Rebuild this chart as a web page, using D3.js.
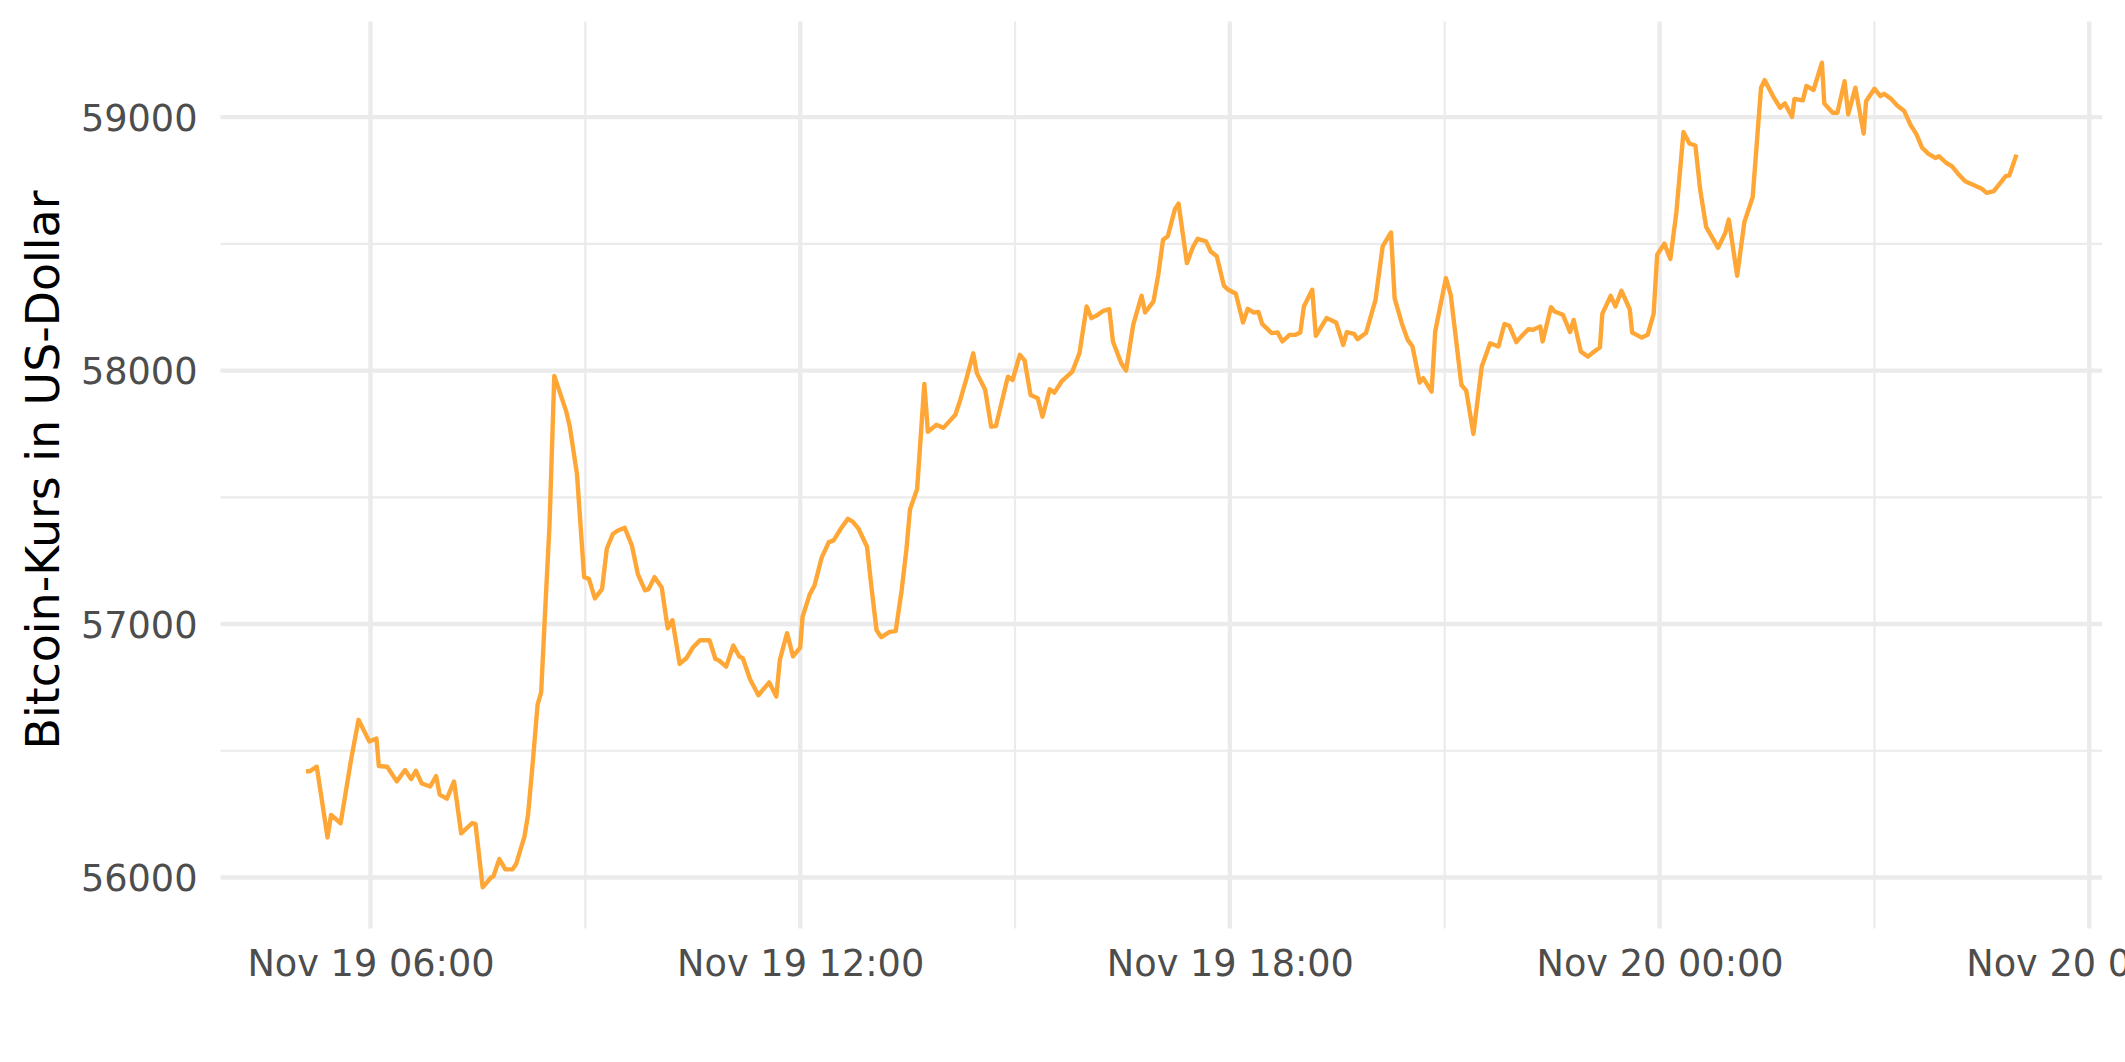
<!DOCTYPE html>
<html>
<head>
<meta charset="utf-8">
<script src="https://cdn.jsdelivr.net/npm/d3@7"></script>
<style>
  html, body { margin: 0; padding: 0; background: #ffffff; }
  svg { display: block; }
</style>
</head>
<body>
<svg id="chart" width="2125" height="1062"></svg>
<script>
// ---- Data ----
const times = [
  "2021-11-19 05:06","2021-11-19 05:09","2021-11-19 05:15","2021-11-19 05:24","2021-11-19 05:27","2021-11-19 05:35",
  "2021-11-19 05:44","2021-11-19 05:50","2021-11-19 05:59","2021-11-19 06:05","2021-11-19 06:07","2021-11-19 06:14",
  "2021-11-19 06:22","2021-11-19 06:29","2021-11-19 06:34","2021-11-19 06:38","2021-11-19 06:43","2021-11-19 06:50",
  "2021-11-19 06:55","2021-11-19 06:58","2021-11-19 07:04","2021-11-19 07:10","2021-11-19 07:16","2021-11-19 07:25",
  "2021-11-19 07:28","2021-11-19 07:34","2021-11-19 07:41","2021-11-19 07:43","2021-11-19 07:48","2021-11-19 07:53",
  "2021-11-19 07:59","2021-11-19 08:02","2021-11-19 08:09","2021-11-19 08:12","2021-11-19 08:16","2021-11-19 08:20",
  "2021-11-19 08:23","2021-11-19 08:26","2021-11-19 08:30","2021-11-19 08:34","2021-11-19 08:44","2021-11-19 08:47",
  "2021-11-19 08:53","2021-11-19 08:59","2021-11-19 09:03","2021-11-19 09:08","2021-11-19 09:14","2021-11-19 09:18",
  "2021-11-19 09:23","2021-11-19 09:27","2021-11-19 09:33","2021-11-19 09:39","2021-11-19 09:44","2021-11-19 09:50",
  "2021-11-19 09:53","2021-11-19 09:58","2021-11-19 10:04","2021-11-19 10:09","2021-11-19 10:13","2021-11-19 10:19",
  "2021-11-19 10:25","2021-11-19 10:30","2021-11-19 10:36","2021-11-19 10:44","2021-11-19 10:49","2021-11-19 10:52",
  "2021-11-19 10:58","2021-11-19 11:04","2021-11-19 11:09","2021-11-19 11:12","2021-11-19 11:18","2021-11-19 11:25",
  "2021-11-19 11:34","2021-11-19 11:40","2021-11-19 11:43","2021-11-19 11:49","2021-11-19 11:54","2021-11-19 12:00",
  "2021-11-19 12:02","2021-11-19 12:08","2021-11-19 12:12","2021-11-19 12:18","2021-11-19 12:24","2021-11-19 12:28",
  "2021-11-19 12:35","2021-11-19 12:40","2021-11-19 12:44","2021-11-19 12:49","2021-11-19 12:56","2021-11-19 13:00",
  "2021-11-19 13:04","2021-11-19 13:08","2021-11-19 13:15","2021-11-19 13:20","2021-11-19 13:25","2021-11-19 13:29",
  "2021-11-19 13:32","2021-11-19 13:38","2021-11-19 13:44","2021-11-19 13:47","2021-11-19 13:54","2021-11-19 14:00",
  "2021-11-19 14:10","2021-11-19 14:14","2021-11-19 14:19","2021-11-19 14:25","2021-11-19 14:28","2021-11-19 14:35",
  "2021-11-19 14:40","2021-11-19 14:44","2021-11-19 14:54","2021-11-19 14:58","2021-11-19 15:04","2021-11-19 15:08",
  "2021-11-19 15:13","2021-11-19 15:19","2021-11-19 15:23","2021-11-19 15:29","2021-11-19 15:33","2021-11-19 15:39",
  "2021-11-19 15:48","2021-11-19 15:54","2021-11-19 16:00","2021-11-19 16:04","2021-11-19 16:08","2021-11-19 16:14",
  "2021-11-19 16:19","2021-11-19 16:22","2021-11-19 16:29","2021-11-19 16:33","2021-11-19 16:39","2021-11-19 16:46",
  "2021-11-19 16:49","2021-11-19 16:56","2021-11-19 17:00","2021-11-19 17:04","2021-11-19 17:08","2021-11-19 17:14",
  "2021-11-19 17:17","2021-11-19 17:24","2021-11-19 17:29","2021-11-19 17:33","2021-11-19 17:40","2021-11-19 17:44",
  "2021-11-19 17:49","2021-11-19 17:55","2021-11-19 17:58","2021-11-19 18:05","2021-11-19 18:11","2021-11-19 18:15",
  "2021-11-19 18:20","2021-11-19 18:24","2021-11-19 18:27","2021-11-19 18:35","2021-11-19 18:40","2021-11-19 18:44",
  "2021-11-19 18:50","2021-11-19 18:55","2021-11-19 18:59","2021-11-19 19:02","2021-11-19 19:09","2021-11-19 19:12",
  "2021-11-19 19:21","2021-11-19 19:29","2021-11-19 19:35","2021-11-19 19:38","2021-11-19 19:44","2021-11-19 19:47",
  "2021-11-19 19:54","2021-11-19 20:02","2021-11-19 20:08","2021-11-19 20:15","2021-11-19 20:18","2021-11-19 20:24",
  "2021-11-19 20:29","2021-11-19 20:33","2021-11-19 20:39","2021-11-19 20:42","2021-11-19 20:49","2021-11-19 20:52",
  "2021-11-19 21:01","2021-11-19 21:05","2021-11-19 21:14","2021-11-19 21:18","2021-11-19 21:24","2021-11-19 21:31",
  "2021-11-19 21:34","2021-11-19 21:38","2021-11-19 21:45","2021-11-19 21:50","2021-11-19 21:54","2021-11-19 22:00",
  "2021-11-19 22:04","2021-11-19 22:10","2021-11-19 22:14","2021-11-19 22:20","2021-11-19 22:22","2021-11-19 22:29",
  "2021-11-19 22:32","2021-11-19 22:39","2021-11-19 22:45","2021-11-19 22:48","2021-11-19 22:54","2021-11-19 23:00",
  "2021-11-19 23:04","2021-11-19 23:10","2021-11-19 23:12","2021-11-19 23:19","2021-11-19 23:23","2021-11-19 23:28",
  "2021-11-19 23:35","2021-11-19 23:37","2021-11-19 23:45","2021-11-19 23:50","2021-11-19 23:55","2021-11-19 23:58",
  "2021-11-20 00:04","2021-11-20 00:09","2021-11-20 00:14","2021-11-20 00:20","2021-11-20 00:25","2021-11-20 00:30",
  "2021-11-20 00:34","2021-11-20 00:39","2021-11-20 00:49","2021-11-20 00:55","2021-11-20 00:58","2021-11-20 01:05",
  "2021-11-20 01:11","2021-11-20 01:18","2021-11-20 01:25","2021-11-20 01:28","2021-11-20 01:35","2021-11-20 01:41",
  "2021-11-20 01:45","2021-11-20 01:51","2021-11-20 01:53","2021-11-20 02:00","2021-11-20 02:03","2021-11-20 02:09",
  "2021-11-20 02:16","2021-11-20 02:18","2021-11-20 02:25","2021-11-20 02:29","2021-11-20 02:35","2021-11-20 02:38",
  "2021-11-20 02:44","2021-11-20 02:51","2021-11-20 02:53","2021-11-20 03:00","2021-11-20 03:05","2021-11-20 03:08",
  "2021-11-20 03:14","2021-11-20 03:19","2021-11-20 03:25","2021-11-20 03:30","2021-11-20 03:35","2021-11-20 03:40",
  "2021-11-20 03:45","2021-11-20 03:51","2021-11-20 03:54","2021-11-20 04:00","2021-11-20 04:05","2021-11-20 04:10",
  "2021-11-20 04:16","2021-11-20 04:30","2021-11-20 04:34","2021-11-20 04:40","2021-11-20 04:50","2021-11-20 04:53",
  "2021-11-20 04:59"
];
const prices = [
  56419,56419,56437,56158,56247,56214,
  56472,56622,56537,56548,56440,56437,
  56379,56424,56388,56421,56371,56359,
  56400,56327,56311,56379,56174,56214,
  56211,55961,56000,56005,56073,56032,
  56032,56053,56161,56247,56456,56682,
  56730,57020,57391,57979,57839,57778,
  57592,57185,57178,57101,57138,57297,
  57355,57368,57380,57310,57197,57133,
  57138,57185,57144,56983,57015,56843,
  56867,56907,56936,56936,56862,56856,
  56832,56915,56872,56865,56782,56719,
  56770,56714,56859,56964,56872,56907,
  57028,57117,57152,57262,57323,57330,
  57383,57415,57404,57375,57305,57133,
  56975,56948,56969,56972,57133,57294,
  57452,57533,57947,57758,57786,57774,
  57826,57882,57963,58068,57990,57924,
  57779,57781,57976,57963,58062,58040,
  57904,57891,57818,57926,57913,57957,
  57996,58069,58253,58207,58216,58236,
  58242,58115,58029,58000,58180,58295,
  58229,58273,58378,58516,58530,58638,
  58659,58424,58487,58520,58510,58470,
  58451,58335,58321,58303,58190,58244,
  58229,58231,58184,58148,58150,58115,
  58141,58141,58150,58253,58319,58137,
  58207,58190,58101,58152,58145,58124,
  58148,58279,58490,58545,58286,58187,
  58121,58095,57953,57970,57917,58154,
  58365,58299,57943,57921,57750,58016,
  58055,58108,58095,58184,58177,58112,
  58134,58163,58161,58174,58115,58250,
  58233,58220,58152,58200,58075,58055,
  58071,58091,58224,58295,58253,58315,
  58242,58150,58130,58141,58224,58457,
  58501,58440,58622,58941,58896,58888,
  58714,58567,58484,58543,58596,58374,
  58585,58685,59116,59146,59083,59037,
  59054,59001,59072,59066,59123,59107,
  59215,59054,59017,59017,59142,59011,
  59116,58935,59063,59112,59083,59092,
  59072,59046,59024,58971,58934,58879,
  58856,58839,58846,58820,58806,58777,
  58747,58717,58701,58708,58767,58770,
  58852
];
const yBreaks = [56000, 57000, 58000, 59000];
const yMinorBreaks = [56500, 57500, 58500];
const xBreaks = ["2021-11-19 06:00","2021-11-19 12:00","2021-11-19 18:00","2021-11-20 00:00","2021-11-20 06:00"];
const xMinorBreaks = ["2021-11-19 09:00","2021-11-19 15:00","2021-11-19 21:00","2021-11-20 03:00"];
const yTitle = "Bitcoin-Kurs in US-Dollar";

// ---- Layout ----
const W = 2125, H = 1062;
const panel = { left: 220.5, right: 2102, top: 21.4, bottom: 928.6 };
const FONT = "'DejaVu Sans', Verdana, sans-serif";

const parse = d3.timeParse("%Y-%m-%d %H:%M");
const data = times.map((t, i) => ({ t: parse(t), v: prices[i] }));

// ggplot-style 5% expansion
const tExt = d3.extent(data, d => d.t);
const tPad = (tExt[1] - tExt[0]) * 0.05;
const vExt = d3.extent(data, d => d.v);
const vPad = (vExt[1] - vExt[0]) * 0.05;

const x = d3.scaleTime()
  .domain([new Date(+tExt[0] - tPad), new Date(+tExt[1] + tPad)])
  .range([panel.left, panel.right]);
const y = d3.scaleLinear()
  .domain([vExt[0] - vPad, vExt[1] + vPad])
  .range([panel.bottom, panel.top]);

const svg = d3.select("#chart");
svg.append("rect").attr("width", W).attr("height", H).attr("fill", "#ffffff");

const grid = svg.append("g");
// minor gridlines
grid.selectAll(".ymin").data(yMinorBreaks).enter().append("line")
  .attr("x1", panel.left).attr("x2", panel.right)
  .attr("y1", d => y(d)).attr("y2", d => y(d))
  .attr("stroke", "#EBEBEB").attr("stroke-width", 2.2);
grid.selectAll(".xmin").data(xMinorBreaks.map(parse)).enter().append("line")
  .attr("x1", d => x(d)).attr("x2", d => x(d))
  .attr("y1", panel.top).attr("y2", panel.bottom)
  .attr("stroke", "#EBEBEB").attr("stroke-width", 2.2);
// major gridlines
grid.selectAll(".ymaj").data(yBreaks).enter().append("line")
  .attr("x1", panel.left).attr("x2", panel.right)
  .attr("y1", d => y(d)).attr("y2", d => y(d))
  .attr("stroke", "#EBEBEB").attr("stroke-width", 4.4);
grid.selectAll(".xmaj").data(xBreaks.map(parse)).enter().append("line")
  .attr("x1", d => x(d)).attr("x2", d => x(d))
  .attr("y1", panel.top).attr("y2", panel.bottom)
  .attr("stroke", "#EBEBEB").attr("stroke-width", 4.4);

// line
const line = d3.line().x(d => x(d.t)).y(d => y(d.v));
svg.append("path").datum(data)
  .attr("d", line)
  .attr("fill", "none")
  .attr("stroke", "#FFA736")
  .attr("stroke-width", 4.4)
  .attr("stroke-linejoin", "round")
  .attr("stroke-linecap", "butt");

// axes via d3 axis generators (ticks hidden like theme_minimal)
const fmt = d3.timeFormat("%b %d %H:%M");
const xAxis = d3.axisBottom(x).tickValues(xBreaks.map(parse)).tickFormat(fmt).tickSize(0).tickPadding(0);
const gx = svg.append("g").attr("transform", `translate(0,${panel.bottom})`).call(xAxis);
gx.select(".domain").remove();
gx.selectAll("text")
  .attr("y", 47.2).attr("dy", null)
  .attr("fill", "#4D4D4D")
  .style("font-family", FONT).style("font-size", "36.67px");

const yAxis = d3.axisLeft(y).tickValues(yBreaks).tickFormat(d3.format("d")).tickSize(0).tickPadding(0);
const gy = svg.append("g").attr("transform", `translate(${panel.left - 23},0)`).call(yAxis);
gy.select(".domain").remove();
gy.selectAll("text")
  .attr("x", 0).attr("dy", "0.36em")
  .attr("fill", "#4D4D4D")
  .style("font-family", FONT).style("font-size", "36.67px");

// y title
svg.append("text")
  .attr("transform", `translate(58.5,470) rotate(-90)`)
  .attr("text-anchor", "middle")
  .attr("fill", "#000000")
  .style("font-family", FONT).style("font-size", "45.83px")
  .text(yTitle);
</script>
</body>
</html>
